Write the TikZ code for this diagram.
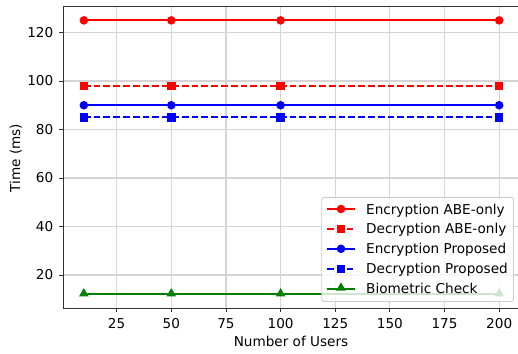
\documentclass[tikz,border=0pt]{standalone}
\usepackage{fontspec}
\setmainfont{DejaVu Sans}
\usetikzlibrary{shapes.geometric}
\definecolor{mred}{RGB}{255,0,0}
\definecolor{mblue}{RGB}{0,0,255}
\definecolor{mgreen}{RGB}{0,128,0}
\begin{document}
\begin{tikzpicture}[x=1pt,y=-1pt,
  font=\fontsize{13.6}{16}\selectfont,
  gridline/.style={draw=black!17, line width=1.1pt},
  spine/.style={draw=black!80, line width=0.9pt},
  tickmark/.style={draw=black!80, line width=0.9pt},
  ser/.style={line width=1.9pt},
  dashser/.style={ser, dash pattern=on 6.8pt off 3pt},
  circmark/.style={circle, fill=#1, inner sep=0pt, minimum size=8.6pt},
  sqmark/.style={rectangle, fill=#1, inner sep=0pt, minimum size=8.4pt},
  trimark/.style={regular polygon, regular polygon sides=3, fill=#1, inner sep=0pt, minimum size=11pt},
  lab/.style={inner sep=0pt},
]
\useasboundingbox (0,0) rectangle (518,353);
\begin{scope}[shift={(62pt,-323.5pt)}, x=2.186pt, y=2.425pt]
  % grid
  \foreach \u in {25,50,...,200} \draw[gridline] (\u,6.35) -- (\u,130.65);
  \foreach \v in {20,40,...,120} \draw[gridline] (0.5,\v) -- (209.5,\v);
  % data coordinates
  \foreach \n/\u in {1/10,2/50,3/100,4/200}{
    \coordinate (ea\n) at (\u,125);
    \coordinate (da\n) at (\u,98);
    \coordinate (ep\n) at (\u,90);
    \coordinate (dp\n) at (\u,85);
    \coordinate (bc\n) at (\u,12);
  }
  % series lines
  \draw[ser, mred] (ea1) -- (ea2) -- (ea3) -- (ea4);
  \draw[dashser, mred] (da1) -- (da2) -- (da3) -- (da4);
  \draw[ser, mblue] (ep1) -- (ep2) -- (ep3) -- (ep4);
  \draw[dashser, mblue] (dp1) -- (dp2) -- (dp3) -- (dp4);
  \draw[ser, mgreen] (bc1) -- (bc2) -- (bc3) -- (bc4);
  % markers
  \foreach \n in {1,2,3,4}{
    \node[circmark=mred] (mea\n) at (ea\n) {};
    \node[sqmark=mred] (mda\n) at (da\n) {};
    \node[circmark=mblue] (mep\n) at (ep\n) {};
    \node[sqmark=mblue] (mdp\n) at (dp\n) {};
    \node[trimark=mgreen, yshift=0.8pt] (mbc\n) at (bc\n) {};
  }
  % spines
  \draw[spine] (0.5,6.35) rectangle (209.5,130.65);
  % ticks
  \foreach \v in {20,40,...,120}{
    \draw[tickmark] (0.5,\v) -- ++(-4.3pt,0);
    \path (0.5,\v) ++(-9.6pt,-4.9pt) node[lab, anchor=base east] (yl\v) {\v};
  }
  \foreach \u in {25,50,...,200}{
    \draw[tickmark] (\u,6.35) -- ++(0,-4.3pt);
    \path (\u,6.35) ++(0,-20.4pt) node[lab, anchor=base] (xl\u) {\u};
  }
\end{scope}
% axis labels
\node[lab, rotate=90, anchor=base] (ylab) at (20,158) {Time (ms)};
\node[lab, anchor=base] (xlab) at (291,346) {Number of Users};
% legend
\draw[draw=black!20, line width=0.9pt, fill=white, fill opacity=0.8, rounded corners=2.6pt] (321.7,197.3) rectangle (513.5,301.5);
\foreach \i/\txt [count=\k] in {0/Encryption ABE-only, 1/Decryption ABE-only, 2/Encryption Proposed, 3/Decryption Proposed, 4/Biometric Check}{
  \coordinate (la\k) at (327,209+19.9*\i);
  \coordinate (lc\k) at (341,209+19.9*\i);
  \coordinate (lb\k) at (355,209+19.9*\i);
  \node[lab, anchor=base west] (lt\k) at (366,214+19.9*\i) {\txt};
}
\draw[ser, mred] (la1) -- (lb1);
\draw[dashser, mred] (la2) -- (lb2);
\draw[ser, mblue] (la3) -- (lb3);
\draw[dashser, mblue] (la4) -- (lb4);
\draw[ser, mgreen] (la5) -- (lb5);
\node[circmark=mred] (lm1) at (lc1) {};
\node[sqmark=mred] (lm2) at (lc2) {};
\node[circmark=mblue] (lm3) at (lc3) {};
\node[sqmark=mblue] (lm4) at (lc4) {};
\node[trimark=mgreen, yshift=0.8pt] (lm5) at (lc5) {};
\end{tikzpicture}
\end{document}
